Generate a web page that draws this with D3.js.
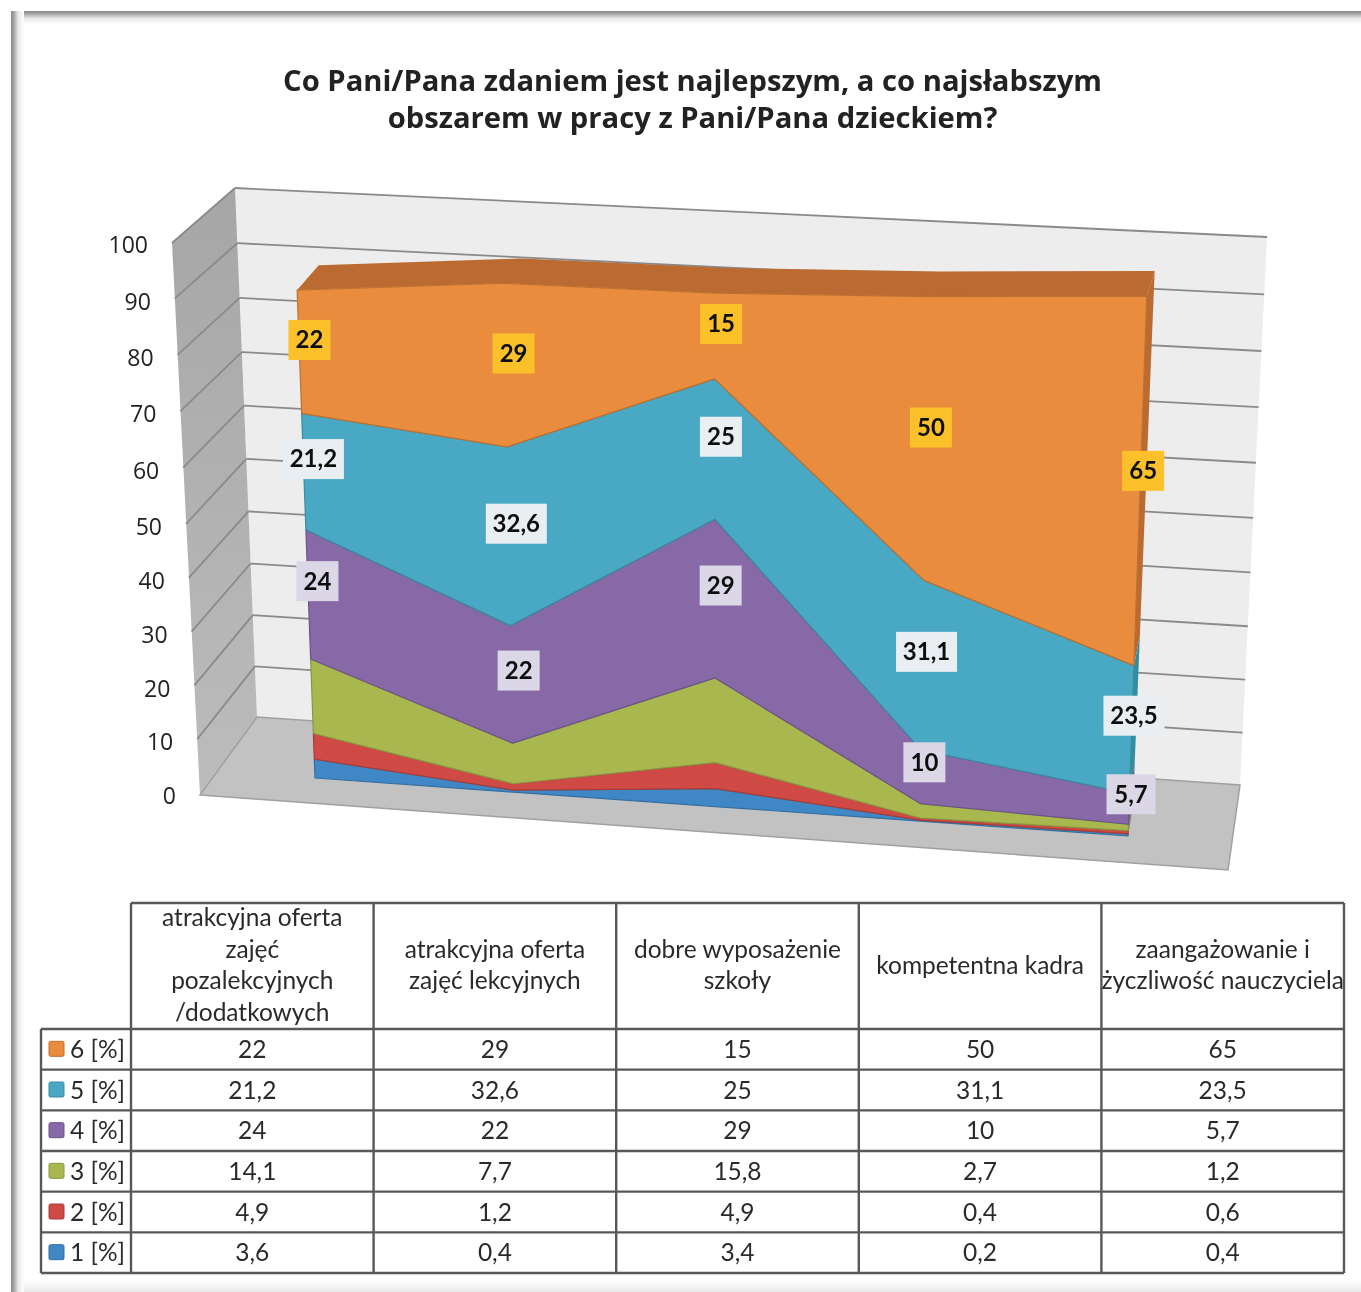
<!DOCTYPE html>
<html>
<head>
<meta charset="utf-8">
<script src="https://cdn.jsdelivr.net/npm/d3@7"></script>
<style>
  body { margin: 0; background: #fff; }
  svg { display: block; }
</style>
</head>
<body>
<div id="viz"></div>
<script>
const categories = [
  ["atrakcyjna oferta", "zajęć", "pozalekcyjnych", "/dodatkowych"],
  ["atrakcyjna oferta", "zajęć lekcyjnych"],
  ["dobre wyposażenie", "szkoły"],
  ["kompetentna kadra"],
  ["zaangażowanie i", "życzliwość nauczyciela"]
];
const seriesNames = ["1 [%]", "2 [%]", "3 [%]", "4 [%]", "5 [%]", "6 [%]"];
const s1 = [3.6, 0.4, 3.4, 0.2, 0.4];
const s2 = [4.9, 1.2, 4.9, 0.4, 0.6];
const s3 = [14.1, 7.7, 15.8, 2.7, 1.2];
const s4 = [24, 22, 29, 10, 5.7];
const s5 = [21.2, 32.6, 25, 31.1, 23.5];
const s6 = [22, 29, 15, 50, 65];
const ticks = [0, 10, 20, 30, 40, 50, 60, 70, 80, 90, 100];

const colors = ["#3f87c6", "#cf4a45", "#a9b750", "#8669a6", "#4aa9c4", "#e98c3d"];
const lineColors = ["#33709f", "#a83c38", "#8a9640", "#6c5487", "#3a8aa0", "#bd7030"];
const sideColors = ["#2f6a9a", "#9e3834", "#7f8b3a", "#604a7a", "#2f8ea3", "#bb6b30"];
const boxColors = { 5: "#fcc12a", 4: "#e8eef2", 3: "#dcd7e6" };

const width = 1361, height = 1292;
const all = [s1, s2, s3, s4, s5, s6];
const font = "Lato, sans-serif";

// maps the unit square onto a 4 corner quad: bl, br, tr, tl
function quad(bl, br, tr, tl) {
  const dx1 = br[0] - tr[0], dx2 = tl[0] - tr[0], sx = bl[0] - br[0] + tr[0] - tl[0];
  const dy1 = br[1] - tr[1], dy2 = tl[1] - tr[1], sy = bl[1] - br[1] + tr[1] - tl[1];
  const det = dx1 * dy2 - dx2 * dy1;
  const g = (sx * dy2 - dx2 * sy) / det;
  const h = (dx1 * sy - sx * dy1) / det;
  const a = br[0] - bl[0] + g * br[0], b = tl[0] - bl[0] + h * tl[0], c = bl[0];
  const d = br[1] - bl[1] + g * br[1], e = tl[1] - bl[1] + h * tl[1], f = bl[1];
  return (u, v) => {
    const w = g * u + h * v + 1;
    return [(a * u + b * v + c) / w, (d * u + e * v + f) / w];
  };
}

const u = d3.scaleLinear().domain([0, 4]).range([0, 1]);
const v = d3.scaleLinear().domain([0, 100]).range([0, 1]);

const backWall = quad([257, 717], [1240, 785], [1267, 237], [235, 188]);
const floor = quad([200, 795], [1228, 870], [1240, 785], [257, 717]);
const front = quad([315, 778], [1128, 836], [1147.5, 275], [295, 232]);
const back = quad([333, 747], [1133, 805], [1155.5, 250], [317, 208]);
const mid = (a, b) => {
  const p = front(a, b), q = back(a, b);
  return [(p[0] + q[0]) / 2 - 0.5, (p[1] + q[1]) / 2 + 0.7];
};

// front edge of the side wall, where the axis labels sit
const axisX = d3.scaleLinear().domain([0, 100]).range([200, 172]);
const axisY = d3.scaleLinear().domain([0, 50, 100]).range([795, 526, 244]);

const stacked = d3.stack().keys(d3.range(6)).value((d, k) => all[k][d])(d3.range(5));
const line = d3.line();

const svg = d3.select("#viz").append("svg").attr("width", width).attr("height", height);
const defs = svg.append("defs");
function grad(id, x2, y2, stops) {
  const g = defs.append("linearGradient").attr("id", id)
    .attr("x1", 0).attr("y1", 0).attr("x2", x2).attr("y2", y2);
  stops.forEach(s => g.append("stop").attr("offset", s[0]).attr("stop-color", s[1]));
}
grad("frameTop", 0, 1, [[0, "#8a8a8a"], [0.22, "#a5a5a5"], [0.55, "#e8e8e8"], [1, "#ffffff"]]);
grad("frameLeft", 1, 0, [[0, "#8a8a8a"], [0.22, "#a5a5a5"], [0.55, "#e8e8e8"], [1, "#ffffff"]]);
grad("frameBottom", 0, 1, [[0, "#ffffff"], [1, "#e9e9e9"]]);
grad("sideFill", 0, 1, [[0, "#a6a6a6"], [1, "#bcbcbc"]]);
defs.append("filter").attr("id", "soft").append("feGaussianBlur").attr("stdDeviation", 0.5);

const page = svg.append("g").attr("filter", "url(#soft)");
page.append("rect").attr("width", width).attr("height", height).attr("fill", "#fff");

// frame of the scanned page
page.append("rect").attr("x", 11).attr("y", 1280).attr("width", 1350).attr("height", 12).attr("fill", "url(#frameBottom)");
page.append("rect").attr("x", 11).attr("y", 11).attr("width", 1350).attr("height", 13).attr("fill", "url(#frameTop)");
page.append("rect").attr("x", 11).attr("y", 11).attr("width", 13).attr("height", 1281).attr("fill", "url(#frameLeft)");

const quadPath = f => line([f(0, 0), f(1, 0), f(1, 1), f(0, 1)]) + "Z";

// walls
page.append("path").attr("d", quadPath(backWall)).attr("fill", "#ededed");
const sidePts = [[axisX(0), axisY(0)], backWall(0, 0), backWall(0, 1), [axisX(100), 243]];
page.append("path").attr("d", line(sidePts) + "Z").attr("fill", "url(#sideFill)");
page.append("path").attr("d", quadPath(floor)).attr("fill", "#c2c2c2").attr("stroke", "#a0a0a0").attr("stroke-width", 1.5);

const grid = page.append("g").attr("fill", "none").attr("stroke", "#8a8a8a").attr("stroke-width", 1.8);
ticks.forEach(t => {
  if (t > 0) {
    grid.append("path").attr("d", line([backWall(0, v(t)), backWall(1, v(t))]));
    const frontEnd = [axisX(t), axisY(t) - (t === 100 ? 1 : 2)];
    grid.append("path").attr("d", line([frontEnd, backWall(0, v(t))]));
  }
});

page.append("g").selectAll("text").data(ticks).join("text")
  .attr("x", d => axisX(d) - 24)
  .attr("y", d => axisY(d) + 1.2)
  .attr("dy", "0.35em")
  .attr("text-anchor", "end")
  .attr("font-family", "'Open Sans', sans-serif")
  .attr("font-size", 23)
  .attr("fill", "#222")
  .text(d => d);

// top face of the last series and the right hand sides
const topLine = stacked[5];
const topFace = d3.range(5).map(i => front(u(i), v(topLine[i][1])))
  .concat(d3.range(4, -1, -1).map(i => back(u(i), v(topLine[i][1]))));
page.append("path").attr("d", line(topFace) + "Z").attr("fill", sideColors[5]);

stacked.forEach((s, k) => {
  const y0 = v(s[4][0]), y1 = v(s[4][1]);
  page.append("path")
    .attr("d", line([front(1, y0), back(1, y0), back(1, y1), front(1, y1)]) + "Z")
    .attr("fill", sideColors[k]);
});

// front faces
stacked.forEach((s, k) => {
  const up = d3.range(5).map(i => front(u(i), v(s[i][1])));
  const down = d3.range(4, -1, -1).map(i => front(u(i), v(s[i][0])));
  page.append("path").attr("d", line(up.concat(down)) + "Z")
    .attr("fill", colors[k]).attr("stroke", lineColors[k]).attr("stroke-width", 1.2)
    .attr("stroke-linejoin", "round");
});

// data labels for the three upper series
const boxWidth = { 2: 42, 3: 49, 4: 61 };
[5, 4, 3].forEach(k => {
  d3.range(5).forEach(i => {
    const val = all[k][i];
    const p = mid(u(i), v((stacked[k][i][0] + stacked[k][i][1]) / 2));
    const txt = String(val).replace(".", ",");
    const w = boxWidth[txt.length];
    page.append("rect").attr("x", p[0] - w / 2).attr("y", p[1] - 20)
      .attr("width", w).attr("height", 40).attr("fill", boxColors[k]);
    page.append("text").attr("x", p[0]).attr("y", p[1]).attr("dy", "0.35em")
      .attr("text-anchor", "middle").attr("font-family", font).attr("font-weight", 700)
      .attr("font-size", 24).attr("fill", "#111").text(txt);
  });
});

// title
page.append("text").attr("x", 692.5).attr("y", 91).attr("text-anchor", "middle")
  .attr("font-family", "'Open Sans', sans-serif").attr("font-weight", 700).attr("font-size", 29.2)
  .attr("fill", "#222").text("Co Pani/Pana zdaniem jest najlepszym, a co najsłabszym");
page.append("text").attr("x", 692.5).attr("y", 128).attr("text-anchor", "middle")
  .attr("font-family", "'Open Sans', sans-serif").attr("font-weight", 700).attr("font-size", 29.2)
  .attr("fill", "#222").text("obszarem w pracy z Pani/Pana dzieckiem?");

// data table
const colX = d3.scaleLinear().domain([0, 5]).range([131, 1344]);
const rowY = d3.scaleLinear().domain([0, 6]).range([1029, 1273]);
const headTop = 903, legendLeft = 41;
const table = page.append("g").attr("stroke", "#585858").attr("stroke-width", 2.4);
d3.range(6).forEach(c => table.append("line")
  .attr("x1", colX(c)).attr("x2", colX(c)).attr("y1", headTop).attr("y2", rowY(6)));
table.append("line").attr("x1", legendLeft).attr("x2", legendLeft).attr("y1", rowY(0)).attr("y2", rowY(6));
table.append("line").attr("x1", colX(0)).attr("x2", colX(5)).attr("y1", headTop).attr("y2", headTop);
d3.range(7).forEach(r => table.append("line")
  .attr("x1", legendLeft).attr("x2", colX(5)).attr("y1", rowY(r)).attr("y2", rowY(r)));

const tableText = page.append("g").attr("font-family", font).attr("font-size", 24.5).attr("fill", "#2b2b2b");
categories.forEach((lines, c) => {
  lines.forEach((t, j) => {
    tableText.append("text").attr("x", colX(c + 0.5))
      .attr("y", 965 + (j - (lines.length - 1) / 2) * 31.5)
      .attr("dy", "0.35em").attr("text-anchor", "middle").text(t);
  });
});
d3.range(6).forEach(r => {
  const k = 5 - r, cy = rowY(r + 0.5);
  page.append("rect").attr("x", 49).attr("y", cy - 8).attr("width", 15).attr("height", 15).attr("rx", 1.5)
    .attr("fill", colors[k]).attr("stroke", lineColors[k]).attr("stroke-width", 1);
  tableText.append("text").attr("x", 70).attr("y", cy).attr("dy", "0.35em").text(seriesNames[k]);
  all[k].forEach((val, c) => {
    tableText.append("text").attr("x", colX(c + 0.5)).attr("y", cy).attr("dy", "0.35em")
      .attr("text-anchor", "middle").text(String(val).replace(".", ","));
  });
});
</script>
</body>
</html>
